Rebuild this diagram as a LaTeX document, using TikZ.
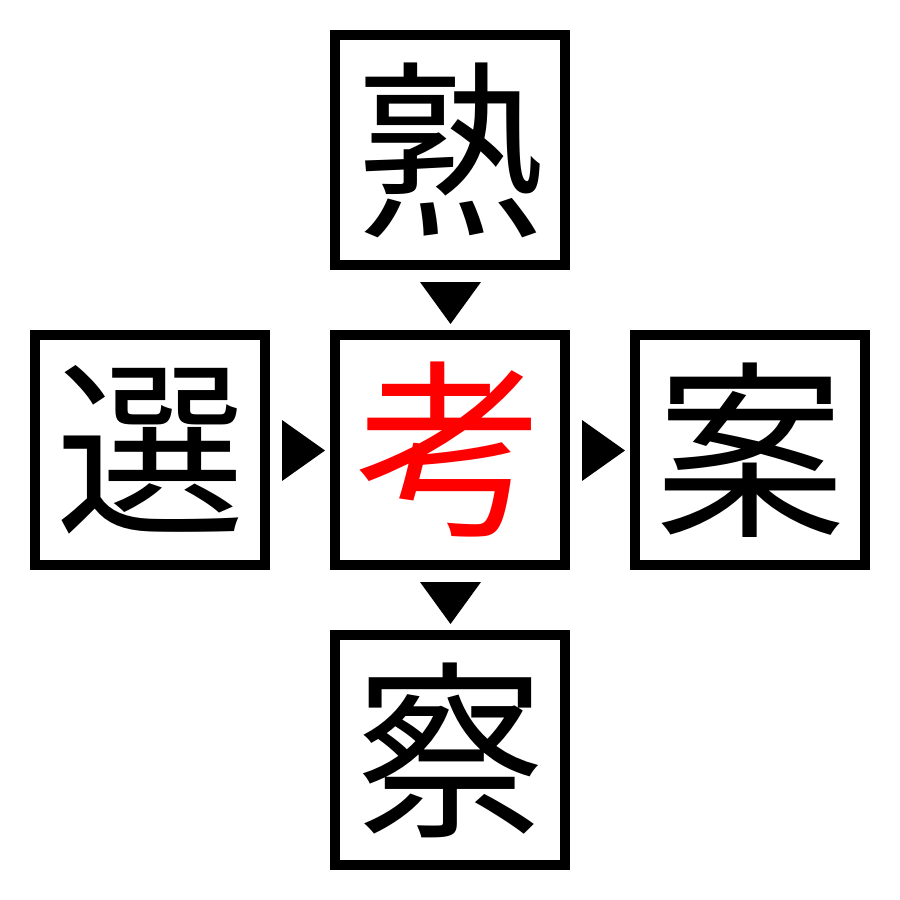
\documentclass[tikz,border=0pt]{standalone}
\usepackage{fontspec}
\newfontfamily\cjk{Noto Sans CJK JP}
\begin{document}
\begin{tikzpicture}[x=1pt,y=-1pt,
  kbox/.style={draw=black,line width=10pt,minimum size=230pt,inner sep=0pt,
    font=\cjk\fontsize{190}{190}\selectfont},
  tri/.style={fill=black}]
\useasboundingbox (0,0) rectangle (900,900);
\node[kbox] (top) at (450,150) {熟};
\node[kbox] (mid) at (450,450) {\textcolor{red}{考}};
\node[kbox] (lft) at (150,450) {選};
\node[kbox] (rgt) at (750,450) {案};
\node[kbox] (bot) at (450,750) {察};
\fill[tri] (420,282) -- (481,282) -- (450.5,324) -- cycle;
\fill[tri] (420,582) -- (481,582) -- (450.5,624) -- cycle;
\fill[tri] (282,420) -- (282,481) -- (325,450.5) -- cycle;
\fill[tri] (582,420) -- (582,481) -- (625,450.5) -- cycle;
\end{tikzpicture}
\end{document}
